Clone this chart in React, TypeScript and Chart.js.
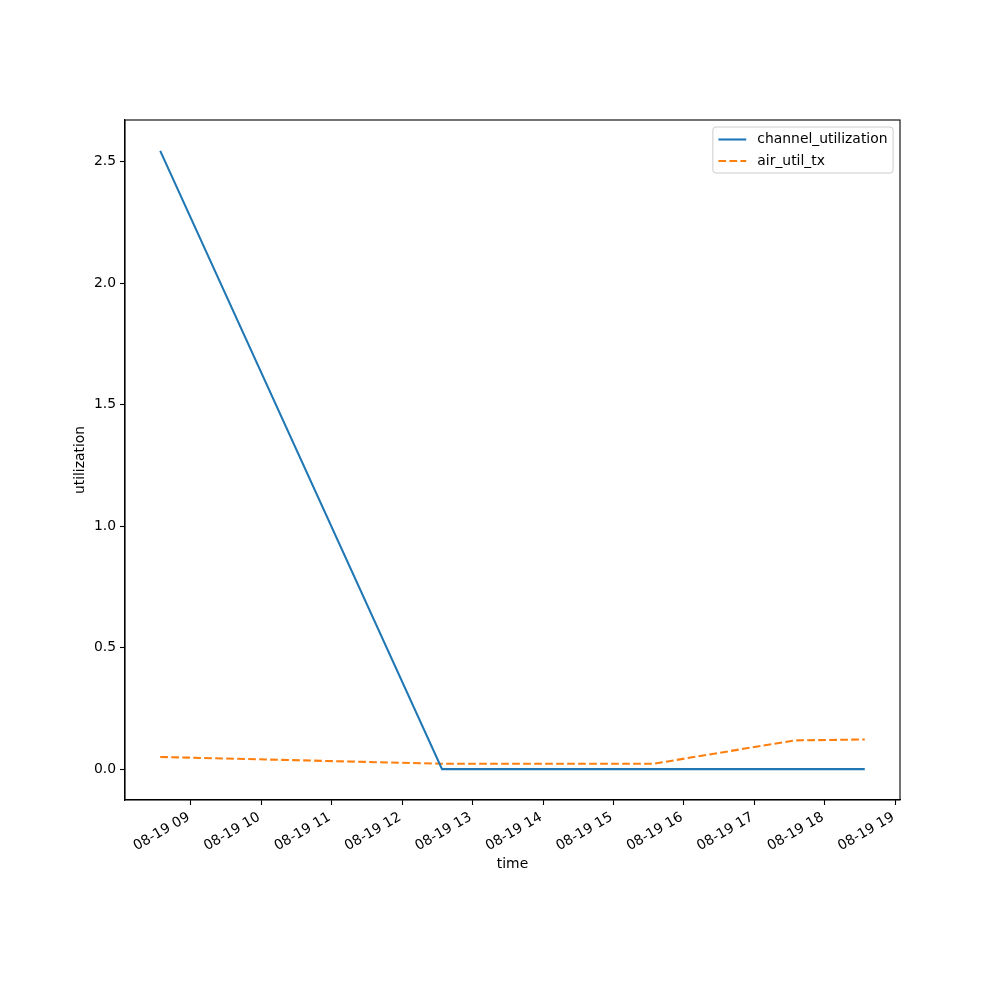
import React, { useEffect, useRef } from "react";
import { Chart, registerables } from "chart.js";

Chart.register(...registerables);

// ---- data ----
const datePrefix = "08-19";
const channelTimes = ["08:34", "12:34", "18:34"];
const channelValues = [2.545, 0.0, 0.0];
const airTimes = ["08:34", "12:34", "15:34", "17:34", "18:34"];
const airValues = [0.05, 0.022, 0.022, 0.118, 0.122];
const xTickHours = [9, 10, 11, 12, 13, 14, 15, 16, 17, 18, 19];
const yTickValues = [0.0, 0.5, 1.0, 1.5, 2.0, 2.5];
const seriesNames = ["channel_utilization", "air_util_tx"];
const seriesColors = ["#1f77b4", "#ff7f0e"];

const FONT = "DejaVu Sans";
const FS = 13.9;

const toHours = (t: string) => {
  const [h, m] = t.split(":").map(Number);
  return h + m / 60;
};

const allHours = [...channelTimes, ...airTimes].map(toHours);
const allVals = [...channelValues, ...airValues];
const xMinD = Math.min(...allHours);
const xMaxD = Math.max(...allHours);
const yMinD = Math.min(...allVals);
const yMaxD = Math.max(...allVals);
const xM = (xMaxD - xMinD) * 0.05;
const yM = (yMaxD - yMinD) * 0.05;

const framePlugin = {
  id: "frameAndLegend",
  afterDraw(chart: any) {
    const { ctx, chartArea } = chart;
    const { left, right, top, bottom } = chartArea;
    ctx.save();
    ctx.strokeStyle = "#000";
    ctx.lineWidth = 1.1;
    ctx.strokeRect(left, top, right - left, bottom - top);

    // legend
    ctx.font = `${FS}px "${FONT}"`;
    const textW = Math.max(...seriesNames.map((n) => ctx.measureText(n).width));
    const pad = 0.4 * FS;
    const handleLen = 2 * FS;
    const handleGap = 0.8 * FS;
    const rowH = 21.5;
    const boxW = pad + handleLen + handleGap + textW + pad;
    const boxH = 46;
    const bx = right - 0.5 * FS - boxW;
    const by = top + 7;
    const r = 3;
    ctx.beginPath();
    ctx.moveTo(bx + r, by);
    ctx.lineTo(bx + boxW - r, by);
    ctx.quadraticCurveTo(bx + boxW, by, bx + boxW, by + r);
    ctx.lineTo(bx + boxW, by + boxH - r);
    ctx.quadraticCurveTo(bx + boxW, by + boxH, bx + boxW - r, by + boxH);
    ctx.lineTo(bx + r, by + boxH);
    ctx.quadraticCurveTo(bx, by + boxH, bx, by + boxH - r);
    ctx.lineTo(bx, by + r);
    ctx.quadraticCurveTo(bx, by, bx + r, by);
    ctx.closePath();
    ctx.fillStyle = "rgba(255,255,255,0.8)";
    ctx.fill();
    ctx.strokeStyle = "#cccccc";
    ctx.lineWidth = 1;
    ctx.stroke();

    seriesNames.forEach((name, i) => {
      const y = by + 12.5 + i * rowH;
      ctx.beginPath();
      ctx.strokeStyle = seriesColors[i];
      ctx.lineWidth = 2.08;
      ctx.setLineDash(i === 1 ? [7.7, 3.3] : []);
      ctx.moveTo(bx + pad, y);
      ctx.lineTo(bx + pad + handleLen, y);
      ctx.stroke();
      ctx.setLineDash([]);
      ctx.fillStyle = "#000";
      ctx.textAlign = "left";
      ctx.textBaseline = "middle";
      ctx.fillText(name, bx + pad + handleLen + handleGap, y);
    });
    ctx.restore();
  },
};

export default function App() {
  const ref = useRef<HTMLCanvasElement>(null);
  useEffect(() => {
    if (!ref.current) return;
    const chart = new Chart(ref.current, {
      type: "line",
      data: {
        datasets: [
          {
            label: seriesNames[0],
            data: channelTimes.map((t, i) => ({ x: toHours(t), y: channelValues[i] })),
            borderColor: seriesColors[0],
            backgroundColor: seriesColors[0],
            borderWidth: 2.08,
            pointRadius: 0,
            tension: 0,
          },
          {
            label: seriesNames[1],
            data: airTimes.map((t, i) => ({ x: toHours(t), y: airValues[i] })),
            borderColor: seriesColors[1],
            backgroundColor: seriesColors[1],
            borderWidth: 2.08,
            borderDash: [7.7, 3.3],
            pointRadius: 0,
            tension: 0,
          },
        ],
      },
      options: {
        responsive: false,
        animation: false,
        layout: { padding: { left: 72, right: 100, top: 120, bottom: 100 } },
        plugins: { legend: { display: false }, tooltip: { enabled: false } },
        scales: {
          x: {
            type: "linear",
            min: xMinD - xM,
            max: xMaxD + xM,
            afterBuildTicks: (scale: any) => {
              scale.ticks = xTickHours.map((v) => ({ value: v }));
            },
            afterFit: (scale: any) => {
              scale.height = 100;
            },
            grid: {
              drawOnChartArea: false,
              drawTicks: true,
              tickLength: 5,
              tickWidth: 1.1,
              tickColor: "#000",
            },
            border: { display: true, color: "#000", width: 1.1 },
            ticks: {
              autoSkip: false,
              minRotation: 30,
              maxRotation: 30,
              padding: 4,
              labelOffset: -2,
              color: "#000",
              font: { family: FONT, size: FS },
              callback: (v: any) => `${datePrefix} ${String(v).padStart(2, "0")}`,
            },
            title: {
              display: true,
              text: "time",
              color: "#000",
              font: { family: FONT, size: FS },
              padding: { top: 0, bottom: 27 },
            },
          },
          y: {
            type: "linear",
            min: yMinD - yM,
            max: yMaxD + yM,
            afterBuildTicks: (scale: any) => {
              scale.ticks = yTickValues.map((v) => ({ value: v }));
            },
            afterFit: (scale: any) => {
              scale.width = 53;
            },
            grid: {
              drawOnChartArea: false,
              drawTicks: true,
              tickLength: 5,
              tickWidth: 1.1,
              tickColor: "#000",
            },
            border: { display: true, color: "#000", width: 1.1 },
            ticks: {
              padding: 4,
              color: "#000",
              font: { family: FONT, size: FS },
              callback: (v: any) => Number(v).toFixed(1),
            },
            title: {
              display: true,
              text: "utilization",
              color: "#000",
              font: { family: FONT, size: FS },
              padding: { top: 0, bottom: 0 },
            },
          },
        },
      },
      plugins: [framePlugin],
    } as any);
    return () => chart.destroy();
  }, []);
  return (
    <div style={{ position: "fixed", left: 0, top: 0, width: 1000, height: 1000, background: "#fff" }}>
      <canvas ref={ref} width={1000} height={1000} style={{ width: 1000, height: 1000, display: "block" }} />
    </div>
  );
}
